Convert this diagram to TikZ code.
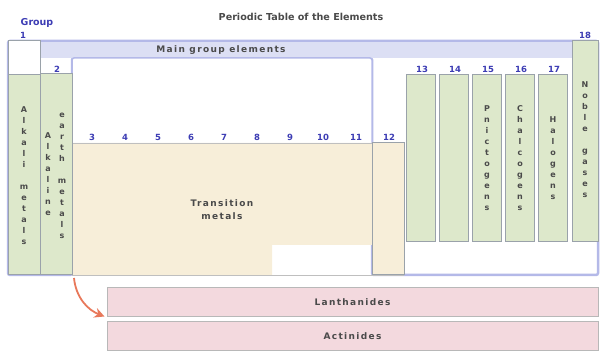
\documentclass[tikz,border=0pt]{standalone}
\usepackage{fontspec}
\usetikzlibrary{arrows.meta,positioning}
\newfontfamily\ptfont{DejaVu Sans}
\newfontfamily\ptwide[LetterSpace=15]{DejaVu Sans}
\definecolor{ptGreen}{HTML}{DDE8CB}
\definecolor{ptBeige}{HTML}{F7EED9}
\definecolor{ptPink}{HTML}{F3D9DE}
\definecolor{ptBand}{HTML}{DCDFF4}
\definecolor{ptEdge}{HTML}{B4B9E8}
\definecolor{ptGray}{HTML}{9AA2AA}
\definecolor{ptNum}{HTML}{3C3CB4}
\definecolor{ptText}{HTML}{4A4A4A}
\definecolor{ptArrow}{HTML}{E8785A}

\begin{document}
\begin{tikzpicture}[x=1pt,y=-1pt,
  col/.style={draw=ptGray,line width=1pt,fill=ptGreen},
  num/.style={font=\ptfont\bfseries\fontsize{8.5}{9}\selectfont,text=ptNum,inner sep=0pt},
  vlab/.style={font=\ptfont\bfseries\fontsize{8}{11}\selectfont,text=ptText,align=center,inner sep=0pt},
  lab/.style={font=\ptwide\bfseries\fontsize{9}{13}\selectfont,text=ptText,inner sep=0pt,align=center},
  fblock/.style={draw=black!28,line width=1pt,fill=ptPink,minimum width=491pt,
    minimum height=29pt,inner sep=0pt},
  arr/.style={-{Stealth[length=10pt,width=10pt,fill=black!22]},draw=ptArrow,line width=1.8pt}]
  \useasboundingbox (0,0) rectangle (600,352);
  % main group outline
  \filldraw[draw=ptEdge,line width=2.5pt,fill=white,rounded corners=2pt]
    (8,41)--(598,41)--(598,275)--(372,275)--(372,58)--(72,58)--(72,275)--(8,275)--cycle;
  \fill[ptBand] (8,42)rectangle(597,58);
  \draw[ptEdge,line width=1.5pt,fill=white,rounded corners=2pt] (72,58)rectangle(372,150);
  % transition metals
  \fill[ptBeige] (72,143)--(372,143)--(372,245)--(272,245)--(272,275)--(72,275)--cycle;
  \draw[black!25,line width=.8pt] (72,143)--(404,143) (72,275)--(404,275);
  \draw[draw=ptGray,line width=1pt,fill=ptBeige] (372,143)rectangle(404,275);
  % groups 1 and 2
  \draw[col,fill=white] (8,41)rectangle(40,275);
  \draw[col] (8,75)rectangle(40,275);
  \draw[col] (40,74)rectangle(72,275);
  % groups 13 to 18
  \foreach \n [count=\i from 0] in {13,...,17}{
    \draw[col] (406.5+33*\i,75)rectangle++(29,167);
    \node[num] (n\n) at (422+33*\i,69) {\n};
  }
  \draw[col] (572,41)rectangle(598,242);
  % labels
  \node[lab,font=\ptfont\bfseries\fontsize{9.6}{12}\selectfont] (title) at (301,17) {Periodic Table of the Elements};
  \node[num,font=\ptfont\bfseries\fontsize{9.5}{10}\selectfont] (grp) at (37,23) {Group};
  \node[num] (n1) at (23,35) {1};
  \node[num] (n2) at (57,69) {2};
  \foreach \n [count=\i from 0] in {3,...,12}
    \node[num] (n\n) at (92+33*\i,137) {\n};
  \node[num] (n18) at (585,35) {18};
  \node[lab] (mge) at (221,50) {Main group elements};
  \node[lab] (tm) at (222,210) {Transition\\metals};
  \node[vlab] (alk) at (24,176) {A\\l\\k\\a\\l\\i\\[11pt]m\\e\\t\\a\\l\\s};
  \node[vlab] (aea) at (48,174) {A\\l\\k\\a\\l\\i\\n\\e};
  \node[vlab] (aeb) at (62,176) {e\\a\\r\\t\\h\\[11pt]m\\e\\t\\a\\l\\s};
  \node[vlab] (pn) at (487,158) {P\\n\\i\\c\\t\\o\\g\\e\\n\\s};
  \node[vlab] (ch) at (520,158) {C\\h\\a\\l\\c\\o\\g\\e\\n\\s};
  \node[vlab] (ha) at (553,158) {H\\a\\l\\o\\g\\e\\n\\s};
  \node[vlab] (ng) at (585,140) {N\\o\\b\\l\\e\\[11pt]g\\a\\s\\e\\s};
  % f block
  \node[fblock] (lan) at (352.5,302.5) {};
  \node[fblock] (act) at (352.5,336) {};
  \node[lab] (lant) at (lan) {Lanthanides};
  \node[lab] (actt) at (act) {Actinides};
  \coordinate (tc) at (74,278);
  \draw[arr] (tc) .. controls (76,298) and (88,310) .. ([xshift=-2pt,yshift=1pt]lan.south west);
\end{tikzpicture}
\end{document}
